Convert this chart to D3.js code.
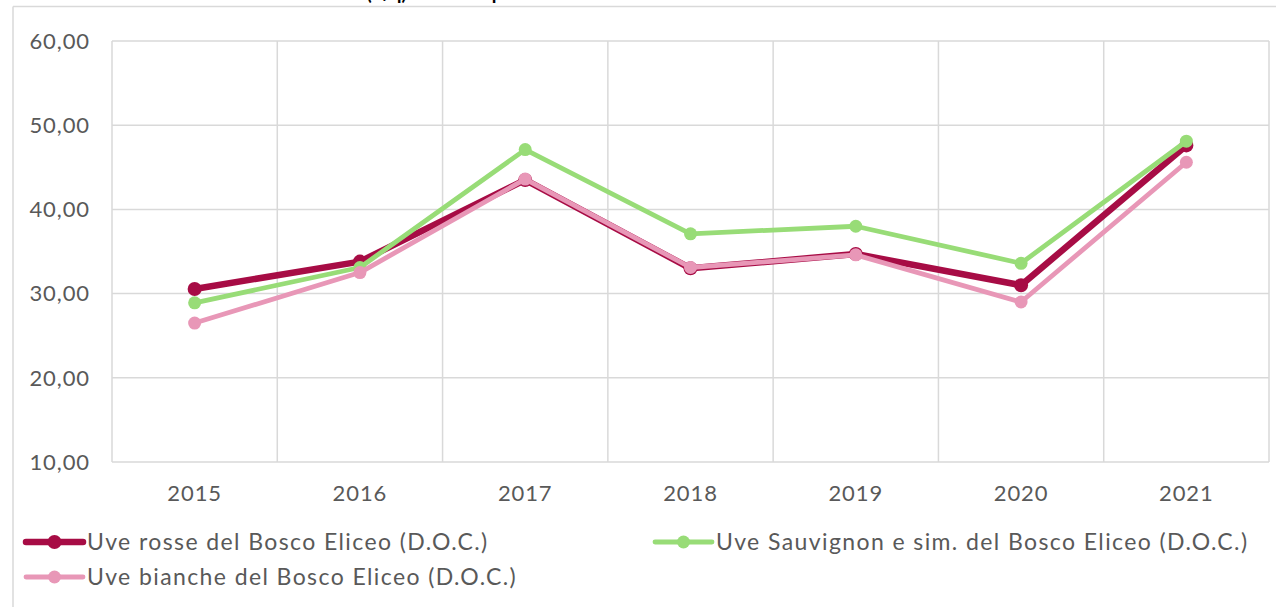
<!DOCTYPE html>
<html>
<head>
<meta charset="utf-8">
<script src="https://cdn.jsdelivr.net/npm/d3@7"></script>
<style>
  html, body { margin: 0; padding: 0; background: #fff; }
  svg { display: block; }
  text { font-family: "Lato", "Open Sans", sans-serif; }
</style>
</head>
<body>
<svg id="chart" width="1276" height="607"></svg>
<script>
// ---- data ----
const years = ["2015", "2016", "2017", "2018", "2019", "2020", "2021"];
const rosse = [30.55, 33.8, 43.5, 33.0, 34.7, 31.0, 47.6];
const sauvignon = [28.9, 33.1, 47.1, 37.1, 38.0, 33.6, 48.1];
const bianche = [26.5, 32.5, 43.6, 33.1, 34.6, 29.0, 45.6];
const yTicks = [10, 20, 30, 40, 50, 60];
const seriesNames = [
  "Uve rosse del Bosco Eliceo (D.O.C.)",
  "Uve Sauvignon e sim. del Bosco Eliceo (D.O.C.)",
  "Uve bianche del Bosco Eliceo (D.O.C.)"
];
const titleText = "Prezzi medi (€/q) delle uve prodotte";

const series = [
  { name: seriesNames[0], values: rosse, color: "#A70C45", width: 6.5, r: 7 },
  { name: seriesNames[1], values: sauvignon, color: "#98DC77", width: 4.8, r: 6.5 },
  { name: seriesNames[2], values: bianche, color: "#E897B7", width: 4.8, r: 6.5 }
];

const svg = d3.select("#chart");
const grid = "#D9D9D9";
const textCol = "#595959";

// outer frame
svg.append("line").attr("x1", 13).attr("x2", 1276).attr("y1", 6.5).attr("y2", 6.5)
  .attr("stroke", grid).attr("stroke-width", 1.5);
svg.append("line").attr("x1", 13).attr("x2", 13).attr("y1", 6.5).attr("y2", 607)
  .attr("stroke", grid).attr("stroke-width", 1.5);

// title, cut by the top edge as in the reference (only descenders visible)
const tmp = svg.append("text").attr("font-size", 19).attr("font-weight", "bold").text("Prezzi medi ");
const preW = tmp.node().getComputedTextLength();
tmp.remove();
svg.append("text").attr("x", 362 - preW).attr("y", -0.5)
  .attr("font-size", 19).attr("font-weight", "bold").attr("fill", "#000")
  .text(titleText);

// scales
const x = d3.scaleBand().domain(years).range([112, 1269]).paddingInner(0).paddingOuter(0);
const y = d3.scaleLinear().domain([10, 60]).range([462, 41]);
const cx = d => x(d) + x.bandwidth() / 2;

// horizontal grid
svg.append("g").selectAll("line").data(yTicks).join("line")
  .attr("x1", 112).attr("x2", 1269)
  .attr("y1", d => y(d)).attr("y2", d => y(d))
  .attr("stroke", grid).attr("stroke-width", 1.5);

// vertical grid (category boundaries)
const bounds = years.map(d => x(d)).concat([x(years[years.length - 1]) + x.bandwidth()]);
svg.append("g").selectAll("line").data(bounds).join("line")
  .attr("x1", d => d).attr("x2", d => d)
  .attr("y1", y(60)).attr("y2", y(10))
  .attr("stroke", grid).attr("stroke-width", 1.5);

// y axis labels
const fmt = d => d3.format(".2f")(d).replace(".", ",");
svg.append("g").selectAll("text").data(yTicks).join("text")
  .attr("x", 90).attr("y", d => y(d)).attr("dy", "0.35em")
  .attr("text-anchor", "end").attr("font-size", 22).attr("letter-spacing", 0.9)
  .attr("fill", textCol)
  .text(fmt);

// x axis labels
svg.append("g").selectAll("text").data(years).join("text")
  .attr("x", d => cx(d)).attr("y", 493).attr("dy", "0.35em")
  .attr("text-anchor", "middle").attr("font-size", 22).attr("letter-spacing", 0.9)
  .attr("fill", textCol)
  .text(d => d);

// lines and markers
const line = d3.line().x((d, i) => cx(years[i])).y(d => y(d));
series.forEach(s => {
  const g = svg.append("g");
  g.append("path").datum(s.values).attr("d", line)
    .attr("fill", "none").attr("stroke", s.color).attr("stroke-width", s.width)
    .attr("stroke-linejoin", "round").attr("stroke-linecap", "round");
  g.selectAll("circle").data(s.values).join("circle")
    .attr("cx", (d, i) => cx(years[i])).attr("cy", d => y(d)).attr("r", s.r)
    .attr("fill", s.color);
});

// legend
const legendPos = [
  { x: 26, y: 542 },
  { x: 655, y: 542 },
  { x: 26, y: 577 }
];
series.forEach((s, i) => {
  const p = legendPos[i];
  const g = svg.append("g").attr("transform", `translate(${p.x},${p.y})`);
  g.append("line").attr("x1", 0).attr("x2", 57).attr("y1", 0).attr("y2", 0)
    .attr("stroke", s.color).attr("stroke-width", s.width).attr("stroke-linecap", "round");
  g.append("circle").attr("cx", 28.5).attr("cy", 0).attr("r", s.r).attr("fill", s.color);
  g.append("text").attr("x", 61).attr("y", 0).attr("dy", "0.35em")
    .attr("font-size", 23).attr("letter-spacing", 1.4).attr("fill", textCol).text(s.name);
});
</script>
</body>
</html>
